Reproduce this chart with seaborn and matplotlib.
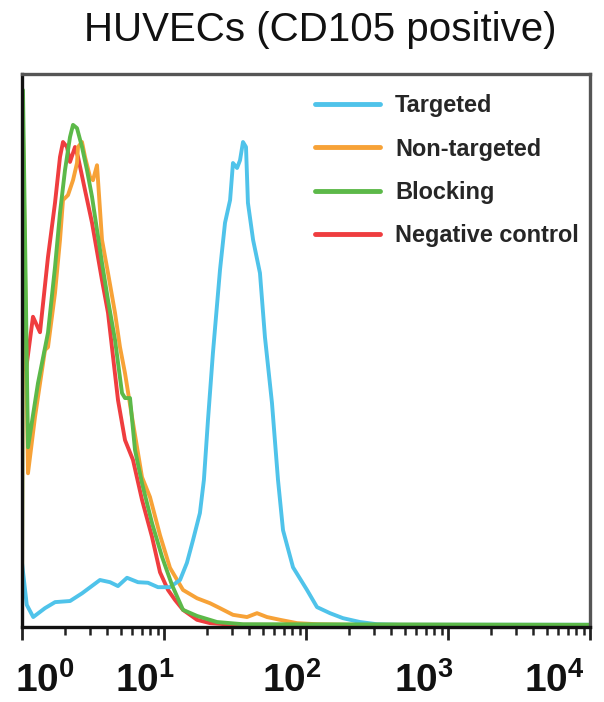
import pandas as pd
import numpy as np
import matplotlib
matplotlib.use("Agg")
import matplotlib.pyplot as plt
import matplotlib.transforms as mtransforms
from matplotlib.ticker import LogLocator, NullFormatter
import seaborn as sns

# fluorescence intensity (x) and relative count (y, % of axis height)
targeted_x = [1.0, 1.08, 1.20, 1.45, 1.71, 2.18, 2.65, 3.54, 4.17, 4.74, 5.49, 6.56, 7.71,
              9.07, 11.0, 12.97, 14.5, 16.0, 17.9, 19.1, 20.4, 22.1, 24.8, 26.9, 29.2, 30.6,
              32.7, 34.3, 36.0, 37.8, 39.0, 42.4, 47.4, 51.4, 57.6, 63.5, 68.9, 81.0, 101.6,
              119.5, 147.5, 182, 240, 316, 459, 10000]
targeted_y = [11.6, 4.0, 1.8, 3.4, 4.5, 4.7, 6.1, 8.5, 8.1, 7.4, 8.9, 8.1, 8.0,
              7.2, 7.2, 8.5, 11.6, 15.7, 20.6, 26.6, 37.4, 49.5, 64.6, 73.1, 77.2, 83.9,
              83.0, 84.4, 87.7, 86.8, 76.7, 70.0, 64.0, 52.4, 40.5, 26.6, 17.5, 10.8, 6.7,
              3.6, 2.5, 1.6, 0.9, 0.5, 0.4, 0.4]

nontargeted_x = [1.0, 1.016, 1.102, 1.235, 1.452, 1.524, 1.708, 1.852, 1.944, 2.108, 2.287,
                 2.440, 2.480, 2.646, 2.778, 3.012, 3.162, 3.375, 3.430, 3.660, 4.034, 4.519,
                 4.899, 5.313, 5.952, 7.000, 7.967, 9.373, 11.02, 13.61, 17.08, 21.09, 24.80,
                 30.61, 38.42, 45.19, 53.13, 65.61, 86.43, 119.5, 204.1, 10000]
nontargeted_y = [0.5, 90.0, 27.8, 38.0, 50.1, 50.6, 60.4, 70.0, 77.2, 78.1, 80.8,
                 83.9, 86.8, 87.7, 85.0, 81.4, 80.8, 83.5, 80.8, 70.0, 64.0, 56.8,
                 50.6, 45.9, 38.0, 27.1, 23.5, 16.6, 10.7, 6.7, 5.2, 4.3, 3.4,
                 2.2, 1.8, 2.5, 1.8, 1.3, 0.7, 0.5, 0.4, 0.35]

blocking_x = [1.0, 1.016, 1.102, 1.296, 1.524, 1.708, 1.852, 2.008, 2.178, 2.287, 2.440,
              2.646, 2.870, 3.112, 3.375, 3.660, 4.034, 4.519, 5.062, 5.313, 5.763, 6.249,
              7.000, 8.233, 9.681, 11.38, 13.61, 17.08, 23.62, 36.00, 10000]
blocking_y = [0.5, 97.1, 32.5, 44.1, 53.2, 65.1, 74.9, 82.6, 88.6, 90.8, 90.2,
              86.8, 82.6, 77.8, 71.8, 65.8, 59.1, 51.9, 42.3, 41.4, 41.4, 32.0,
              26.0, 18.8, 12.7, 7.6, 3.1, 2.0, 0.9, 0.5, 0.4]

negcontrol_x = [1.067, 1.102, 1.195, 1.339, 1.524, 1.708, 1.852, 1.944, 2.074, 2.178, 2.362,
                2.480, 2.778, 3.112, 3.660, 4.034, 4.745, 5.313, 6.050, 7.000, 8.233, 9.373,
                10.67, 11.95, 13.61, 17.08, 21.09, 30.61, 10000]
negcontrol_y = [46.5, 49.2, 56.1, 53.3, 66.9, 76.7, 85.0, 87.7, 86.8, 84.1, 86.8,
                85.0, 79.0, 73.1, 62.7, 56.8, 41.0, 33.8, 30.2, 23.0, 16.3, 9.9,
                6.7, 4.9, 3.1, 1.3, 0.7, 0.4, 0.3]

series_names = ["Targeted", "Non-targeted", "Blocking", "Negative control"]
series_colors = ["#4fc3ea", "#f7a237", "#5cb949", "#ef3d3f"]
draw_order = ["Negative control", "Non-targeted", "Targeted", "Blocking"]

tick_values = [1, 10, 100, 1000, 10000]
tick_texts = [r"$\mathbf{10^{0}}$", r"$\mathbf{10^{1}}$", r"$\mathbf{10^{2}}$",
              r"$\mathbf{10^{3}}$", r"$\mathbf{10^{4}}$"]
tick_text_x = [1.45, 7.4, 79, 676, 5620]

frames = []
for name, xs, ys in [("Targeted", targeted_x, targeted_y),
                     ("Non-targeted", nontargeted_x, nontargeted_y),
                     ("Blocking", blocking_x, blocking_y),
                     ("Negative control", negcontrol_x, negcontrol_y)]:
    frames.append(pd.DataFrame({"intensity": xs, "count": ys, "sample": name}))
df = pd.concat(frames, ignore_index=True)

sns.set_theme(style="white")
plt.rcParams["font.family"] = ["Liberation Sans", "DejaVu Sans"]
plt.rcParams["mathtext.fontset"] = "custom"
plt.rcParams["mathtext.rm"] = "Liberation Sans"
plt.rcParams["mathtext.bf"] = "Liberation Sans:bold"

fig = plt.figure(figsize=(6.04, 7.02), dpi=100)
ax = fig.add_axes([22 / 604, 1 - 627 / 702, 568 / 604, 553 / 702])

palette = dict(zip(series_names, series_colors))
for name in draw_order:
    sns.lineplot(data=df[df["sample"] == name], x="intensity", y="count",
                 color=palette[name], linewidth=2.8, sort=False, estimator=None,
                 ax=ax, label=name)

ax.set_xscale("log")
ax.set_xlim(1, 10000)
ax.set_ylim(0, 100)
ax.set_xlabel("")
ax.set_ylabel("")
ax.set_yticks([])
ax.xaxis.set_minor_locator(LogLocator(base=10, subs=np.arange(2, 10), numticks=10))
ax.xaxis.set_minor_formatter(NullFormatter())
ax.set_xticks(tick_values)
ax.set_xticklabels([""] * len(tick_values))
ax.tick_params(axis="x", which="major", direction="out", length=9, width=2, color="#222222", bottom=True)
ax.tick_params(axis="x", which="minor", direction="out", length=6, width=1.8, color="#222222", bottom=True)

for side in ["left", "bottom"]:
    ax.spines[side].set_color("#111111")
    ax.spines[side].set_linewidth(2.4)
for side in ["top", "right"]:
    ax.spines[side].set_color("#555555")
    ax.spines[side].set_linewidth(2.4)

trans = mtransforms.blended_transform_factory(ax.transData, ax.transAxes)
for xv, txt in zip(tick_text_x, tick_texts):
    ax.text(xv, -0.118, txt, transform=trans, ha="center", va="baseline",
            fontsize=28, color="#111111")

handles, labels = ax.get_legend_handles_labels()
lookup = dict(zip(labels, handles))
leg = ax.legend([lookup[n] for n in series_names], series_names, loc="upper left",
                bbox_to_anchor=(0.516, 0.963), frameon=False, borderaxespad=0, borderpad=0,
                handlelength=2.77, handletextpad=0.64, labelspacing=0.86,
                prop={"family": "Liberation Sans", "weight": "bold", "size": 16.9})
for line in leg.get_lines():
    line.set_linewidth(3.5)

fig.text(0.53, 0.957, "HUVECs (CD105 positive)", ha="center", va="center",
         fontsize=29, color="#111111")

fig.savefig("out.png", dpi=100)
